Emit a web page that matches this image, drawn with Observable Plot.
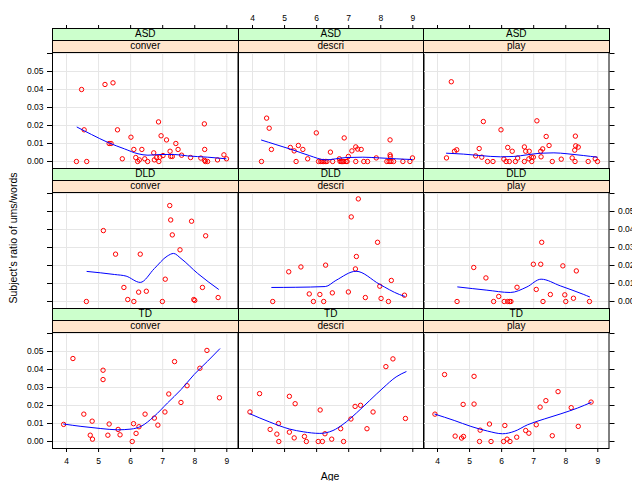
<!DOCTYPE html>
<html><head><meta charset="utf-8">
<script src="https://cdn.jsdelivr.net/npm/d3@7"></script>
<script src="https://cdn.jsdelivr.net/npm/@observablehq/plot@0.6"></script>
<style>
body{margin:0;background:#fff;font-family:"Liberation Sans",Arial,Helvetica,sans-serif;}
#chart{position:relative;width:632px;height:481px;overflow:hidden;background:#fff;}
#chart svg{position:absolute;max-width:none;}
.strip{position:absolute;box-sizing:border-box;border:1px solid #000;text-align:center;font-size:10px;line-height:10px;color:#000;}
.title{position:absolute;font-size:10.5px;color:#000;white-space:nowrap;}
</style></head><body><div id="chart"></div>
<script>
// ---- data (age, ratio) ----
const groups = ["ASD","DLD","TD"];
const contexts = ["conver","descri","play"];
const ageTicks = [4,5,6,7,8,9];
const ratioTicks = [0,0.01,0.02,0.03,0.04,0.05,0.06];
const xLabel = "Age";
const yLabel = "Subject's ratio of ums/words";

const asdConver = [[4.31,0],[4.47,0.040],[4.55,0.0176],[4.63,0],[5.20,0.0428],[5.33,0.0100],[5.39,0.0100],[5.45,0.0437],[5.59,0.0176],[5.74,0.0015],[6.01,0.0135],[6.10,0.0067],[6.16,0.0022],[6.22,0],[6.27,0.0009],[6.35,0.0067],[6.44,0.0015],[6.53,0],[6.72,0.0048],[6.74,0.0009],[6.81,0.0022],[6.87,0.022],[6.88,0],[6.91,0.0024],[6.95,0.0143],[7.01,0.0033],[7.12,0.012],[7.23,0.0057],[7.25,0.0028],[7.30,0.0028],[7.41,0.0100],[7.48,0.0067],[7.59,0.0035],[7.87,0.0022],[8.19,0.0019],[8.30,0.0209],[8.31,0.0067],[8.31,0.0006],[8.33,0],[8.40,0],[8.71,0.0009],[8.91,0.0037],[8.99,0.0015]];
const asdConverSmooth = [[4.33,0.0191],[4.78,0.0150],[5.29,0.0106],[5.81,0.0070],[6.23,0.0043],[6.54,0.0035],[6.95,0.0039],[7.36,0.0039],[7.78,0.0031],[8.40,0.0024],[8.97,0.0015]];

const asdDescri = [[4.28,0],[4.44,0.0241],[4.52,0.0185],[4.59,0.0067],[5.18,0.0078],[5.30,0.0059],[5.36,0],[5.43,0.0089],[5.57,0.0067],[5.72,0.0015],[5.99,0.0159],[6.06,0],[6.13,0],[6.17,0],[6.22,0],[6.27,0],[6.32,0],[6.43,0.0052],[6.50,0],[6.71,0.0015],[6.73,0],[6.77,0],[6.81,0],[6.85,0],[6.86,0.0131],[6.92,0],[6.95,0],[6.99,0.0028],[7.10,0.0059],[7.22,0.0081],[7.22,0],[7.28,0.0069],[7.39,0.0067],[7.47,0],[7.59,0],[7.86,0.0020],[8.19,0],[8.26,0],[8.29,0.0120],[8.29,0.0037],[8.30,0.0028],[8.32,0],[8.40,0],[8.69,0],[8.91,0],[8.99,0.0020]];
const asdDescriSmooth = [[4.28,0.0119],[4.73,0.0094],[5.25,0.0065],[5.77,0.0033],[6.29,0.0009],[6.60,0.0015],[6.92,0.0022],[7.44,0.0024],[7.96,0.0020],[8.48,0.0015],[8.98,0.0011]];

const asdPlay = [[4.28,0.0020],[4.43,0.0443],[4.53,0.0057],[4.60,0.0065],[5.19,0.0031],[5.30,0.0072],[5.38,0.0024],[5.43,0.0222],[5.56,0],[5.73,0],[5.98,0.0176],[6.07,0.0013],[6.14,0],[6.19,0.0078],[6.24,0],[6.33,0.0057],[6.43,0],[6.50,0.0019],[6.71,0.0081],[6.71,0],[6.75,0.0057],[6.85,0.0015],[6.86,0.0057],[6.93,0.0024],[6.94,0],[6.99,0.0024],[7.10,0.0226],[7.22,0.0057],[7.23,0.0026],[7.28,0.0070],[7.39,0.0139],[7.48,0.0089],[7.58,0],[7.86,0.0013],[8.20,0.0020],[8.28,0.0063],[8.29,0],[8.30,0.0141],[8.31,0.0087],[8.39,0.0080],[8.70,0],[8.92,0.0015],[8.99,0]];
const asdPlaySmooth = [[4.28,0.0046],[4.81,0.0041],[5.33,0.0033],[5.96,0.0026],[6.38,0.0028],[6.79,0.0037],[7.21,0.0046],[7.63,0.0048],[8.04,0.0043],[8.56,0.0033],[8.98,0.0024]];

const dldConver = [[4.62,0],[5.15,0.0394],[5.53,0.0263],[5.79,0.0078],[5.91,0.0011],[6.10,0],[6.25,0.0052],[6.30,0.0263],[6.49,0.0057],[6.99,0],[7.08,0.0124],[7.22,0.0533],[7.25,0.0453],[7.30,0.0370],[7.54,0.0287],[7.90,0.0446],[7.97,0.0011],[8.00,0.0006],[8.24,0.0078],[8.34,0.0365],[8.73,0.0022]];
const dldConverSmooth = [[4.64,0.0167],[5.50,0.0150],[5.86,0.0141],[6.30,0.0106],[6.74,0.0183],[7.14,0.0252],[7.34,0.0267],[7.57,0.0239],[8.09,0.0156],[8.74,0.0068]];

const dldDescri = [[4.63,0],[5.13,0.0165],[5.51,0.0192],[5.77,0.0042],[5.90,0],[6.10,0.0039],[6.22,0],[6.28,0.0202],[6.49,0.0048],[6.99,0.0053],[7.08,0.0470],[7.21,0.0181],[7.24,0.0250],[7.30,0.0570],[7.52,0.0022],[7.90,0.0329],[7.97,0.0085],[8.01,0.0017],[8.24,0],[8.33,0.0117],[8.74,0.0035]];
const dldDescriSmooth = [[4.60,0.0078],[5.35,0.0079],[6.27,0.0083],[6.60,0.0117],[7.23,0.0168],[7.96,0.0096],[8.58,0.0039],[8.74,0.0029]];

const dldPlay = [[4.61,0],[5.13,0.0189],[5.51,0.0131],[5.75,0],[5.91,0.0028],[6.08,0],[6.19,0],[6.25,0],[6.29,0],[6.48,0.0079],[6.99,0.0207],[7.08,0.0067],[7.22,0.0207],[7.25,0.0329],[7.29,0],[7.52,0.0039],[7.91,0.0198],[7.97,0.0037],[8.00,0],[8.24,0.0018],[8.33,0.0170],[8.74,0]];
const dldPlaySmooth = [[4.63,0.0081],[5.54,0.0063],[6.27,0.0050],[6.79,0.0081],[7.23,0.0124],[7.83,0.0087],[8.56,0.0039],[8.74,0.0026]];

const tdConver = [[3.91,0.0095],[4.20,0.0461],[4.54,0.0152],[4.74,0.0035],[4.80,0.0113],[4.81,0.0013],[5.14,0.0396],[5.14,0.0344],[5.29,0.0035],[5.33,0.0097],[5.61,0.0067],[5.67,0.0037],[6.05,0],[6.09,0.0099],[6.17,0.0045],[6.26,0.0082],[6.45,0.0152],[6.74,0.0130],[6.85,0.0091],[7.07,0.0164],[7.19,0.0264],[7.37,0.0444],[7.57,0.0217],[7.76,0.0310],[8.16,0.0407],[8.38,0.0506],[8.77,0.0243]];
const tdConverSmooth = [[3.91,0.0097],[4.45,0.0084],[5.07,0.0072],[5.59,0.0065],[6.01,0.0069],[6.32,0.0084],[6.73,0.0139],[7.15,0.0214],[7.57,0.0288],[7.98,0.0372],[8.40,0.0446],[8.78,0.0515]];

const tdDescri = [[3.92,0.0164],[4.22,0.0266],[4.55,0.0067],[4.76,0.0041],[4.81,0.0100],[4.82,0],[5.15,0.0251],[5.15,0.0052],[5.30,0.0020],[5.33,0.0210],[5.62,0.0028],[5.68,0],[6.05,0],[6.11,0.0175],[6.18,0],[6.26,0.0043],[6.47,0.0013],[6.75,0.0071],[6.84,0],[7.07,0.0125],[7.20,0.0195],[7.37,0.0201],[7.57,0.0071],[7.76,0.0164],[8.16,0.0416],[8.38,0.0459],[8.77,0.0128]];
const tdDescriSmooth = [[3.92,0.0154],[4.54,0.0108],[5.16,0.0069],[5.58,0.0054],[6.10,0.0045],[6.51,0.0061],[6.82,0.0095],[7.24,0.0158],[7.65,0.0227],[8.07,0.0297],[8.48,0.0359],[8.79,0.0388]];

const tdPlay = [[3.92,0.0152],[4.22,0.0372],[4.55,0.0030],[4.75,0.0019],[4.81,0.0028],[4.80,0.0206],[5.14,0.0362],[5.14,0.0208],[5.31,0],[5.33,0.0063],[5.62,0.0097],[5.67,0],[6.06,0],[6.10,0.0089],[6.17,0.0013],[6.26,0],[6.47,0.0024],[6.75,0.0061],[6.85,0.0046],[7.08,0.0093],[7.20,0.0191],[7.38,0.0227],[7.58,0.0032],[7.76,0.0277],[8.17,0.0188],[8.39,0.0084],[8.79,0.0219]];
const tdPlaySmooth = [[3.92,0.0152],[4.52,0.0117],[5.04,0.0084],[5.56,0.0058],[6.03,0.0043],[6.39,0.0056],[6.81,0.0093],[7.33,0.0125],[7.85,0.0154],[8.37,0.0186],[8.79,0.0217]];

const points = [[asdConver, asdDescri, asdPlay],[dldConver, dldDescri, dldPlay],[tdConver, tdDescri, tdPlay]];
const smooths = [[asdConverSmooth, asdDescriSmooth, asdPlaySmooth],[dldConverSmooth, dldDescriSmooth, dldPlaySmooth],[tdConverSmooth, tdDescriSmooth, tdPlaySmooth]];

// ---- layout ----
const FONT = '"Liberation Sans", Arial, Helvetica, sans-serif';
const W = 185.5, H = 116, M = 34, STRIP = 12;
const colLeft = [52, 237.5, 423];
const plotTop = [52, 192, 332];
const xDomain = [3.563, 3.563 + W / 32.06];
const yDomain = [-0.00389, 0.06056];
const chart = document.getElementById("chart");

const yFmt = d => d > 0.055 ? "" : d.toFixed(2);
const none = () => "";

for (let r = 0; r < 3; r++) {
  for (let c = 0; c < 3; c++) {
    const marks = [
      Plot.gridX(ageTicks, {stroke: "#e6e6e6", strokeOpacity: 1, strokeWidth: 1}),
      Plot.gridY(ratioTicks, {stroke: "#e6e6e6", strokeOpacity: 1, strokeWidth: 1}),
      Plot.dot(points[r][c], {x: d => d[0], y: d => d[1], r: 2.2, stroke: "#ff0000", strokeWidth: 1, fill: "none"}),
      Plot.line(smooths[r][c], {x: d => d[0], y: d => d[1], stroke: "#0000ff", strokeWidth: 1, curve: "monotone-x"}),
      Plot.frame({stroke: "#000", strokeWidth: 1})
    ];
    const axOpt = {tickSize: 5, tickPadding: 4, stroke: "#000", fill: "#000", fontSize: 8.5, label: null};
    if (c === 0) marks.push(Plot.axisY(ratioTicks, {...axOpt, anchor: "left", tickFormat: r !== 1 ? yFmt : none}));
    if (c === 2) marks.push(Plot.axisY(ratioTicks, {...axOpt, anchor: "right", tickFormat: r === 1 ? yFmt : none}));
    if (r === 2) marks.push(Plot.axisX(ageTicks, {...axOpt, tickSize: 4, tickPadding: 5, anchor: "bottom", tickFormat: c !== 1 ? d => String(d) : none}));
    if (r === 0) marks.push(Plot.axisX(ageTicks, {...axOpt, tickSize: 4, tickPadding: 4, anchor: "top", dy: -2 * STRIP, tickFormat: c === 1 ? d => String(d) : none}));

    const svg = Plot.plot({
      width: W + 2 * M, height: H + 2 * M,
      marginLeft: M, marginRight: M, marginTop: M, marginBottom: M,
      x: {domain: xDomain, axis: null, label: null},
      y: {domain: yDomain, axis: null, label: null},
      style: {background: "none", fontFamily: FONT, fontSize: "8.5px", color: "#000", overflow: "visible"},
      marks
    });
    svg.style.left = (colLeft[c] - M) + "px";
    svg.style.top = (plotTop[r] - M) + "px";
    chart.appendChild(svg);
  }
}

// strips
for (let r = 0; r < 3; r++) {
  for (let c = 0; c < 3; c++) {
    const top = plotTop[r] - 2 * STRIP;
    const s1 = document.createElement("div");
    s1.className = "strip";
    Object.assign(s1.style, {left: colLeft[c] + "px", top: top + "px", width: (W + 1) + "px", height: (STRIP + 1) + "px", background: "#ccffcc"});
    s1.textContent = groups[r];
    chart.appendChild(s1);
    const s2 = document.createElement("div");
    s2.className = "strip";
    Object.assign(s2.style, {left: colLeft[c] + "px", top: (top + STRIP) + "px", width: (W + 1) + "px", height: (STRIP + 1) + "px", background: "#ffe5cc"});
    s2.textContent = contexts[c];
    chart.appendChild(s2);
  }
}

const xt = document.createElement("div");
xt.className = "title";
xt.textContent = xLabel;
Object.assign(xt.style, {left: "0px", width: "632px", textAlign: "center", top: "470px", paddingLeft: "28px", boxSizing: "border-box"});
chart.appendChild(xt);

const yt = document.createElement("div");
yt.className = "title";
yt.textContent = yLabel;
Object.assign(yt.style, {left: "13px", top: "238px", transform: "translate(-50%,-50%) rotate(-90deg)"});
chart.appendChild(yt);
</script>
</body></html>
